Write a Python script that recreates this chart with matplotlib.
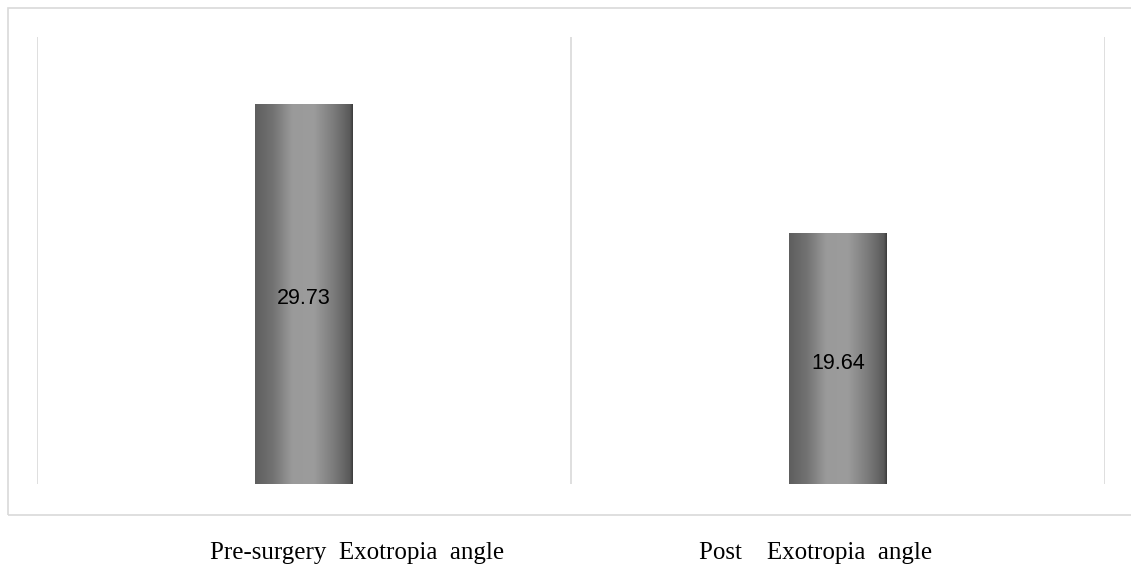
import numpy as np
import matplotlib
matplotlib.use("Agg")
import matplotlib.pyplot as plt
from matplotlib.patches import Rectangle
from matplotlib.colors import LinearSegmentedColormap

categories = ["Pre-surgery  Exotropia  angle", "Post    Exotropia  angle"]
values = [29.73, 19.64]
value_labels = ["29.73", "19.64"]

W, H = 1131, 568
fig = plt.figure(figsize=(W / 100, H / 100), dpi=100)

# outer frame (extends past right edge)
fig.patches.append(Rectangle((7.5 / W, 1 - 514.5 / H), 1.2, (514.5 - 7.5) / H,
                             transform=fig.transFigure, fill=False,
                             edgecolor="#d9d9d9", linewidth=1.2))

ax = fig.add_axes([37 / W, 1 - 484 / H, (1105 - 37) / W, (484 - 37) / H])
ax.set_xlim(0, len(values))
ax.set_ylim(0, 35)
for s in ax.spines.values():
    s.set_visible(False)
ax.set_xticks([])
ax.set_yticks([])
for xv in range(len(values) + 1):
    ax.axvline(xv, color="#d9d9d9", linewidth=1.2, zorder=0)

cmap = LinearSegmentedColormap.from_list(
    "cyl", [(0.0, "#5e5e5e"), (0.18, "#727272"), (0.38, "#9a9a9a"),
            (0.6, "#9c9c9c"), (0.8, "#7c7c7c"), (0.97, "#5a5a5a"), (1.0, "#3c3c3c")])
grad = np.linspace(0, 1, 256).reshape(1, -1)
bw = 98 / 534
bars = ax.bar([i + 0.5 for i in range(len(values))], values, width=bw,
              color="none", edgecolor="none")
for b, v, lab in zip(bars, values, value_labels):
    x0 = b.get_x()
    im = ax.imshow(grad, cmap=cmap, aspect="auto",
                   extent=[x0, x0 + b.get_width(), 0, v], zorder=2)
    im.set_clip_path(b)
    ax.text(b.get_x() + b.get_width() / 2, v / 2 - 0.35, lab, ha="center", va="center",
            fontsize=15.5, family="Liberation Sans", color="#000000", zorder=3)
ax.set_xlim(0, len(values))
ax.set_ylim(0, 35)

label_x = [357, 815.5]
for lx, c in zip(label_x, categories):
    fig.text(lx / W, 1 - 559 / H, c, ha="center", va="baseline",
             fontsize=18, family="Liberation Serif", color="#000000")

fig.savefig("out.png", dpi=100)
